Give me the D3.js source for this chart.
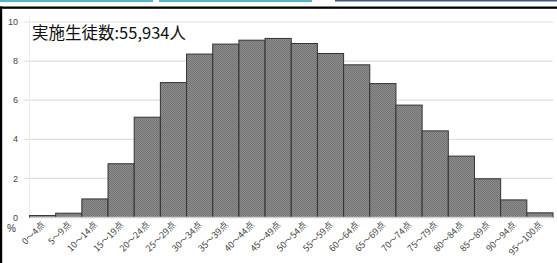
<!DOCTYPE html>
<html><head><meta charset="utf-8">
<script src="https://cdn.jsdelivr.net/npm/d3@7"></script>
<style>body{margin:0;background:#fff;}svg{display:block;}</style>
</head><body>
<svg id="c" width="557" height="263"></svg>
<script>
const categories = ["0〜4点","5〜9点","10〜14点","15〜19点","20〜24点","25〜29点","30〜34点","35〜39点","40〜44点","45〜49点","50〜54点","55〜59点","60〜64点","65〜69点","70〜74点","75〜79点","80〜84点","85〜89点","90〜94点","95〜100点"];
const values = [0.1,0.22,0.95,2.75,5.13,6.9,8.36,8.87,9.07,9.16,8.9,8.39,7.81,6.85,5.75,4.43,3.14,1.98,0.9,0.24];
const yTicks = [0,2,4,6,8,10];
const titleText = "実施生徒数:55,934人";

const svg = d3.select("#c");
const W = 557, H = 263;
const m = {left: 29.5, right: 4, top: 22, bottom: 45.5};

// decorative page frame
svg.append("rect").attr("x",0).attr("y",0).attr("width",153).attr("height",2).attr("fill","#52b6cf");
svg.append("rect").attr("x",159).attr("y",0).attr("width",153).attr("height",2).attr("fill","#52b6cf");
svg.append("rect").attr("x",335).attr("y",0).attr("width",222).attr("height",1.5).attr("fill","#3e5a82");
svg.append("rect").attr("x",0).attr("y",6.5).attr("width",W).attr("height",2.3).attr("fill","#000");
svg.append("rect").attr("x",0).attr("y",6.5).attr("width",2.2).attr("height",H).attr("fill","#000");

// hatch pattern
const defs = svg.append("defs");
const pat = defs.append("pattern").attr("id","hatch").attr("patternUnits","userSpaceOnUse").attr("width",2).attr("height",2);
pat.append("rect").attr("width",2).attr("height",2).attr("fill","#8e8e8e");
pat.append("rect").attr("width",1).attr("height",1).attr("fill","#727272");
pat.append("rect").attr("x",1).attr("y",1).attr("width",1).attr("height",1).attr("fill","#727272");

const x = d3.scaleBand().domain(categories).range([m.left, W - m.right]).padding(0);
const y = d3.scaleLinear().domain([0,10]).range([H - m.bottom, m.top]);

// gridlines
svg.append("g").selectAll("line").data(yTicks.filter(d=>d>0)).join("line")
  .attr("x1", 24).attr("x2", W - m.right)
  .attr("y1", d=>y(d)).attr("y2", d=>y(d))
  .attr("stroke","#e0e0e0").attr("stroke-width",1.2);
// y axis faint line
svg.append("line").attr("x1",m.left).attr("x2",m.left).attr("y1",m.top-6).attr("y2",y(0))
  .attr("stroke","#ececec").attr("stroke-width",1);

// y tick labels
svg.append("g").selectAll("text").data(yTicks).join("text")
  .attr("x", 18).attr("y", d=>y(d)).attr("dy","0.35em")
  .attr("text-anchor","end").attr("font-family","Liberation Sans, Arial, sans-serif")
  .attr("font-size",9).attr("fill","#444").text(d=>d);
svg.append("text").attr("x",7).attr("y",y(0)+14).attr("font-family","Liberation Sans, Arial, sans-serif")
  .attr("font-size",10).attr("fill","#333").text("%");

// bars
svg.append("g").selectAll("rect").data(values).join("rect")
  .attr("x",(d,i)=>x(categories[i]))
  .attr("y",d=>y(d))
  .attr("width",x.bandwidth())
  .attr("height",d=>y(0)-y(d))
  .attr("fill","url(#hatch)")
  .attr("stroke","#333").attr("stroke-width",1);

// baseline
svg.append("line").attr("x1",m.left).attr("x2",W-m.right).attr("y1",y(0)).attr("y2",y(0))
  .attr("stroke","#d0d0d0").attr("stroke-width",1.5);

// x labels
svg.append("g").selectAll("text").data(categories).join("text")
  .attr("transform",d=>`translate(${x(d)+x.bandwidth()/2+3},${y(0)+8}) rotate(-45)`)
  .attr("text-anchor","end").attr("font-family","Noto Sans CJK JP, sans-serif")
  .attr("font-size",9).attr("fill","#444").text(d=>d);

// title
svg.append("text").attr("x",32).attr("y",39).attr("font-family","Noto Sans CJK JP, sans-serif")
  .attr("font-size",16.5).attr("fill","#111").text(titleText);
</script>
</body></html>
